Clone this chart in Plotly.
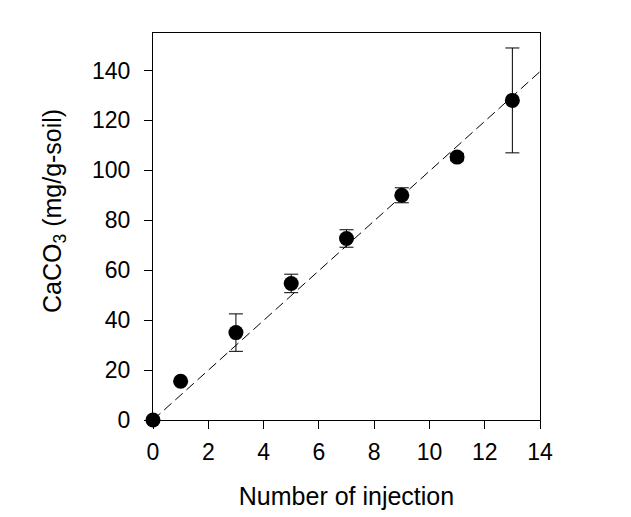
import numpy as np
import plotly.graph_objects as go

injections = [0, 1, 3, 5, 7, 9, 11, 13]
caco3 = [0, 15.5, 35, 54.7, 72.7, 90, 105.3, 128]
caco3_err = [0, 0, 7.5, 3.7, 3.5, 3, 1.5, 21]
x_ticks = [0, 2, 4, 6, 8, 10, 12, 14]
y_ticks = [0, 20, 40, 60, 80, 100, 120, 140]

xa = np.array(injections, float)
ya = np.array(caco3, float)
slope = float((xa * ya).sum() / (xa * xa).sum())
fit_x = [0, 14]
fit_y = [slope * v for v in fit_x]

font = "Liberation Sans, Arial, sans-serif"

fig = go.Figure()
fig.add_trace(go.Scatter(x=fit_x, y=fit_y, mode="lines",
                         line=dict(color="black", width=1, dash="10px,5px"),
                         hoverinfo="skip", showlegend=False))
fig.add_trace(go.Scatter(x=injections, y=caco3, mode="markers",
                         marker=dict(color="black", size=15),
                         error_y=dict(type="data", array=caco3_err, visible=True,
                                      color="black", thickness=1, width=7),
                         cliponaxis=False, showlegend=False))

fig.update_layout(
    width=623, height=509,
    margin=dict(l=145, r=91, t=25, b=95),
    paper_bgcolor="white", plot_bgcolor="white",
    font=dict(family=font, color="black", size=23),
    xaxis=dict(range=[0, 14], tickvals=x_ticks, ticks="outside", ticklen=8,
               tickwidth=1, tickcolor="black", showline=True, linecolor="black",
               linewidth=1, mirror=True, showgrid=False, zeroline=False,
               tickfont=dict(size=23), ticklabelstandoff=3,
               title=dict(text="Number of injection", font=dict(size=25), standoff=23)),
    yaxis=dict(range=[0, 155], tickvals=y_ticks, ticks="outside", ticklen=8,
               tickwidth=1, tickcolor="black", showline=True, linecolor="black",
               linewidth=1, mirror=True, showgrid=False, zeroline=False,
               tickfont=dict(size=23), ticklabelstandoff=9),
    annotations=[dict(text="CaCO<sub>3</sub> (mg/g-soil)", xref="paper", yref="paper",
                      x=0, y=0.54, xshift=-99, xanchor="center", yanchor="middle",
                      textangle=-90, showarrow=False, font=dict(size=25))],
)

fig.write_html("out.html")
